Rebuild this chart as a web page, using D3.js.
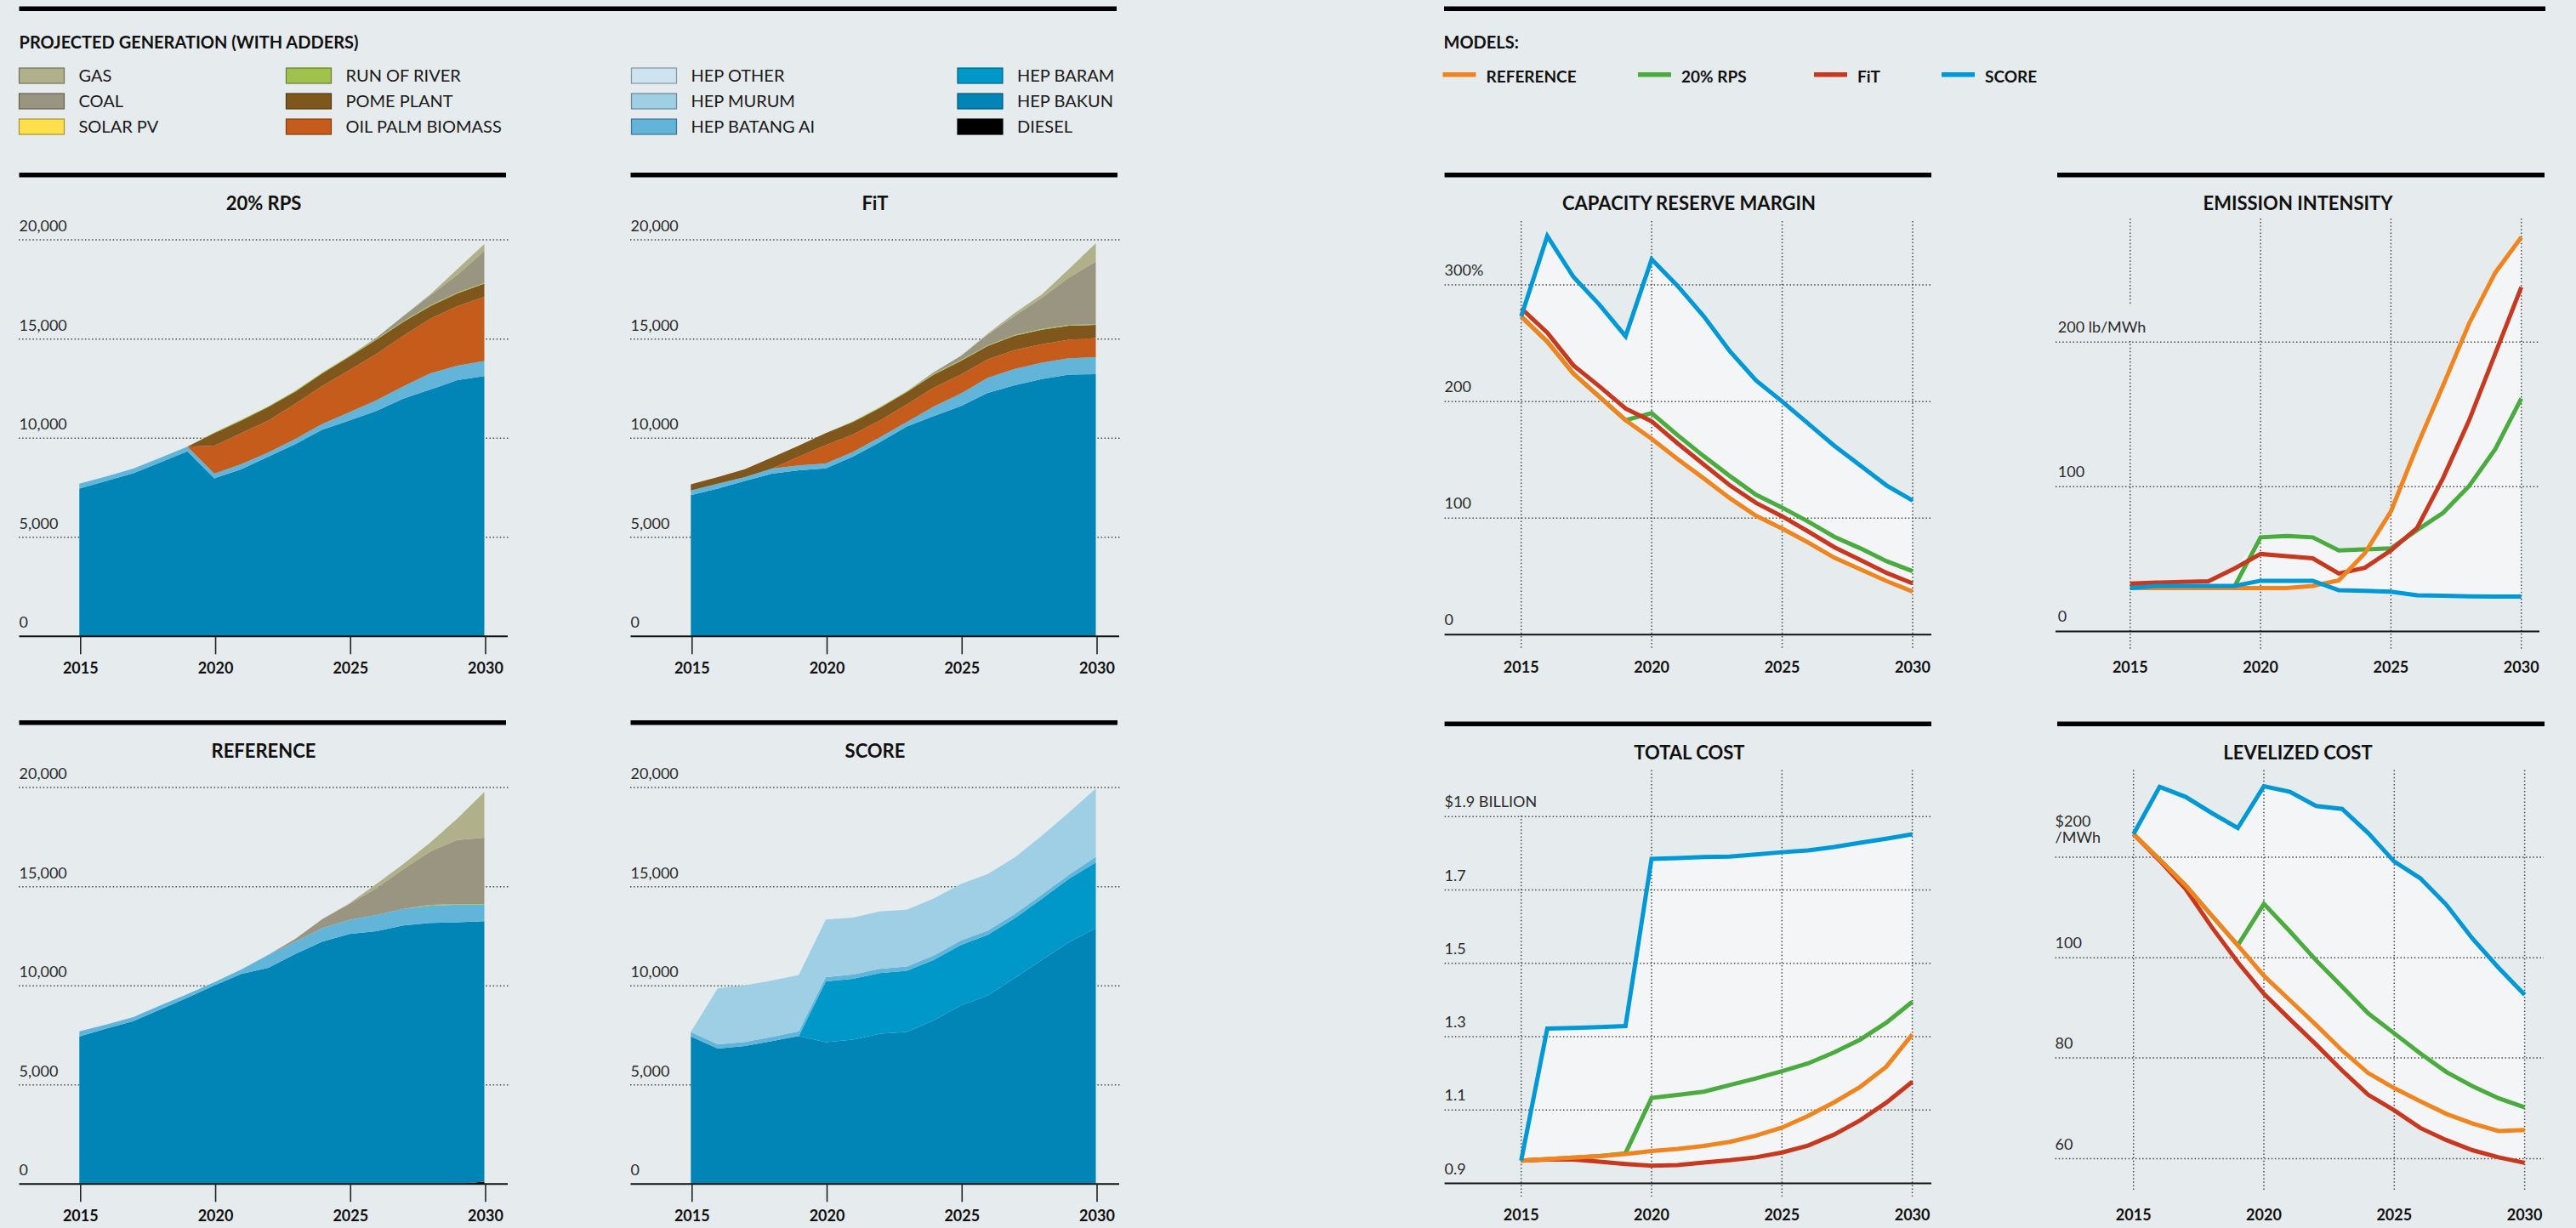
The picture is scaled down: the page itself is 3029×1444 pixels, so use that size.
<!DOCTYPE html>
<html>
<head>
<meta charset="utf-8">
<script src="https://cdn.jsdelivr.net/npm/d3@7"></script>
<style>
  html, body { margin: 0; padding: 0; background: #e6ebed; }
  svg { display: block; }
  text { font-family: Lato, "Open Sans", "Noto Sans", sans-serif; }
</style>
</head>
<body>
<svg id="chart" width="3029" height="1444"></svg>
<script>
// ---------- categories ----------
const years = [2015, 2016, 2017, 2018, 2019, 2020, 2021, 2022, 2023, 2024, 2025, 2026, 2027, 2028, 2029, 2030];
const yearTicks = [2015, 2020, 2025, 2030];

// generation sources, bottom of the stack first
const sourceNames = ["DIESEL", "HEP BAKUN", "HEP BARAM", "HEP BATANG AI", "HEP MURUM", "HEP OTHER",
  "OIL PALM BIOMASS", "POME PLANT", "RUN OF RIVER", "SOLAR PV", "COAL", "GAS"];
const sourceColors = ["#000000", "#0085b6", "#0098c8", "#62b4d9", "#9ecfe5", "#cde4f0",
  "#c65c1b", "#7f561c", "#a0c14e", "#ffe04c", "#999580", "#b0b08a"];
const legendColumns = [
  ["GAS", "COAL", "SOLAR PV"],
  ["RUN OF RIVER", "POME PLANT", "OIL PALM BIOMASS"],
  ["HEP OTHER", "HEP MURUM", "HEP BATANG AI"],
  ["HEP BARAM", "HEP BAKUN", "DIESEL"]
];

const models = ["REFERENCE", "20% RPS", "FiT", "SCORE"];
const modelColors = ["#f0851f", "#4aab3f", "#c8381f", "#0098d6"];

// ---------- projected generation, by scenario ----------
// 20% RPS
const rpsBakun    = [7460, 7840, 8230, 8770, 9330, 7970, 8430, 9060, 9700, 10430, 10890, 11370, 11990, 12450, 12930, 13130];
const rpsBatangAi = [240, 230, 230, 240, 240, 240, 260, 220, 260, 290, 420, 540, 630, 820, 730, 760];
const rpsOilPalm  = [0, 0, 0, 0, 0, 1410, 1560, 1610, 1780, 1920, 2120, 2340, 2550, 2760, 3000, 3240];
const rpsPome     = [0, 0, 0, 0, 0, 630, 640, 680, 610, 630, 680, 710, 690, 630, 640, 660];
const rpsRiver    = [0, 0, 0, 0, 0, 40, 40, 40, 40, 40, 40, 40, 40, 40, 40, 40];
const rpsCoal     = [0, 0, 0, 0, 0, 0, 0, 0, 0, 0, 0, 60, 250, 500, 900, 1620];
const rpsGas      = [0, 0, 0, 0, 0, 0, 0, 0, 0, 0, 0, 0, 20, 60, 280, 340];

// FiT
const fitBakun    = [7120, 7460, 7840, 8210, 8380, 8480, 9060, 9790, 10590, 11110, 11620, 12280, 12670, 12980, 13200, 13230];
const fitBatangAi = [240, 240, 200, 250, 240, 240, 240, 250, 220, 490, 630, 760, 820, 830, 830, 850];
const fitOilPalm  = [0, 0, 0, 0, 440, 930, 880, 850, 890, 950, 960, 940, 960, 930, 930, 970];
const fitPome     = [310, 340, 390, 560, 560, 600, 630, 630, 630, 660, 680, 670, 720, 730, 710, 660];
const fitRiver    = [0, 0, 0, 0, 0, 0, 40, 40, 40, 40, 40, 40, 40, 40, 40, 40];
const fitCoal     = [0, 0, 0, 0, 0, 0, 0, 0, 0, 70, 220, 530, 970, 1570, 2390, 3150];
const fitGas      = [0, 0, 0, 0, 0, 0, 0, 0, 0, 0, 0, 50, 140, 170, 420, 930];

// REFERENCE
const refDiesel   = [0, 0, 0, 0, 0, 0, 0, 0, 0, 0, 0, 0, 0, 0, 0, 120];
const refBakun    = [7450, 7840, 8220, 8810, 9400, 10020, 10600, 10910, 11610, 12230, 12620, 12750, 13040, 13170, 13210, 13140];
const refBatangAi = [250, 210, 200, 200, 180, 160, 220, 650, 620, 690, 700, 820, 840, 870, 880, 830];
const refRiver    = [0, 0, 0, 0, 0, 0, 0, 0, 0, 0, 0, 0, 0, 40, 40, 40];
const refCoal     = [0, 0, 0, 0, 0, 0, 0, 0, 140, 450, 810, 1350, 2010, 2700, 3220, 3340];
const refGas      = [0, 0, 0, 0, 0, 0, 0, 0, 0, 0, 30, 210, 250, 450, 1090, 2310];

// SCORE
const scoreBakun    = [7450, 6830, 6960, 7210, 7470, 7160, 7280, 7580, 7670, 8260, 9010, 9510, 10400, 11310, 12200, 12900];
const scoreBaram    = [0, 0, 0, 0, 0, 3060, 3070, 3060, 3090, 3050, 3050, 3060, 3010, 3070, 3190, 3320];
const scoreBatangAi = [220, 220, 210, 210, 230, 220, 220, 220, 210, 220, 220, 220, 210, 220, 210, 290];
const scoreMurum    = [0, 2830, 2850, 2850, 2850, 2900, 2870, 2890, 2870, 2880, 2850, 2850, 2860, 2970, 3140, 3440];

const genTicks = [0, 5000, 10000, 15000, 20000];

// ---------- model outcomes (REFERENCE, 20% RPS, FiT, SCORE) ----------
const reserveRef   = [273, 251.5, 224, 204, 184, 168, 150.5, 134, 117, 102, 91, 79, 66, 56, 46, 37];
const reserveRps   = [273, 251.5, 224, 204, 184, 190, 171, 153, 136, 120, 109, 97, 84, 74, 63, 54.5];
const reserveFit   = [280, 259, 231, 213, 194, 183, 164, 146, 128, 113, 101.5, 88.5, 75, 64, 53, 44];
const reserveScore = [273, 342, 307, 283, 256, 322, 299, 273, 243, 218, 200, 181, 162, 145, 128, 115];

const emissionRef   = [30, 30, 30, 30, 30, 30, 30, 31.4, 35.3, 54, 83, 128, 170, 213, 248, 272.5];
const emissionRps   = [31, 31, 31, 31, 31, 65, 66, 65, 56, 56.7, 57.4, 70, 82, 100.5, 126, 161];
const emissionFit   = [33, 33.7, 34.2, 34.7, 43.5, 53.5, 52, 50.5, 40, 44, 56, 71.4, 106, 146, 192, 238];
const emissionScore = [30, 31.4, 31.4, 31.4, 31.4, 35, 35, 35, 28.4, 28, 27.4, 25, 24.7, 24.2, 24, 24];

const costRef   = [0.962, 0.966, 0.970, 0.974, 0.980, 0.988, 0.994, 1.002, 1.013, 1.030, 1.052, 1.084, 1.121, 1.163, 1.218, 1.306];
const costRps   = [0.962, 0.966, 0.970, 0.974, 0.982, 1.133, 1.141, 1.150, 1.168, 1.186, 1.206, 1.227, 1.257, 1.292, 1.338, 1.395];
const costFit   = [0.962, 0.965, 0.965, 0.959, 0.953, 0.948, 0.950, 0.957, 0.963, 0.971, 0.984, 1.003, 1.033, 1.072, 1.120, 1.177];
const costScore = [0.962, 1.322, 1.324, 1.326, 1.329, 1.785, 1.787, 1.790, 1.791, 1.797, 1.803, 1.808, 1.817, 1.829, 1.840, 1.852];

const lcoeRef   = [223, 197.7, 171.9, 142, 112.3, 96.4, 91.5, 86.6, 81.5, 77.0, 74.0, 71.4, 68.9, 67.0, 65.5, 65.7];
const lcoeRps   = [223, 197.7, 171.9, 142, 112.3, 153.6, 126.2, 99.5, 94.2, 88.9, 84.9, 80.9, 77.2, 74.4, 72.0, 70.2];
const lcoeFit   = [223, 196.7, 168.5, 130.5, 99.1, 92.8, 87.7, 82.7, 77.5, 72.7, 69.6, 66.1, 63.7, 61.7, 60.3, 59.2];
const lcoeScore = [223, 270, 260, 244, 229, 270.5, 265, 251, 248, 224, 195.7, 179, 152.6, 119, 98.0, 92.6];

const reserveTicks  = [0, 100, 200, 300];
const reserveLabels = ["0", "100", "200", "300%"];
const emissionTicks  = [0, 100, 200];
const emissionLabels = ["0", "100", "200 lb/MWh"];
const costTicks  = [0.9, 1.1, 1.3, 1.5, 1.7, 1.9];
const costLabels = ["0.9", "1.1", "1.3", "1.5", "1.7", "$1.9 BILLION"];
const lcoeTicks  = [60, 80, 100, 200];
const lcoeLabels = [["60"], ["80"], ["100"], ["$200", "/MWh"]];

// ---------- drawing ----------
const BG = "#e6ebed";
const BAND = "#f3f5f6";
const GRID = "#4a4a4a";
const svg = d3.select("#chart");
svg.append("rect").attr("width", 3029).attr("height", 1444).attr("fill", BG);

const colorOf = d3.scaleOrdinal().domain(sourceNames).range(sourceColors);
const modelColor = d3.scaleOrdinal().domain(models).range(modelColors);

function rule(g, x0, x1, y) {
  g.append("rect").attr("x", x0).attr("y", y).attr("width", x1 - x0).attr("height", 5.5).attr("fill", "#000");
}
function dotted(sel) {
  return sel.attr("stroke", GRID).attr("stroke-width", 1.5).attr("stroke-dasharray", "1.5,2.6");
}

// ----- legends -----
const legend = svg.append("g");
rule(legend, 22.5, 1313, 7.5);
rule(legend, 1698, 2993, 7.5);
legend.append("text").attr("x", 22.5).attr("y", 57).attr("font-size", 20).attr("font-weight", 700)
  .attr("fill", "#111").text("PROJECTED GENERATION (WITH ADDERS)");
const legendColX = [22.5, 336.5, 742.5, 1126];
legendColumns.forEach((col, ci) => {
  col.forEach((name, ri) => {
    const gy = 80 + ri * 30;
    legend.append("rect").attr("x", legendColX[ci]).attr("y", gy).attr("width", 53).attr("height", 18)
      .attr("fill", colorOf(name)).attr("stroke", d3.color(colorOf(name)).darker(1.2)).attr("stroke-width", 1.2);
    legend.append("text").attr("x", legendColX[ci] + 70).attr("y", gy + 16).attr("font-size", 20)
      .attr("fill", "#1a1a1a").text(name);
  });
});
legend.append("text").attr("x", 1697.5).attr("y", 57).attr("font-size", 20).attr("font-weight", 700)
  .attr("fill", "#111").text("MODELS:");
const modelLegendX = [1696.5, 1926, 2133, 2283];
models.forEach((m, i) => {
  legend.append("rect").attr("x", modelLegendX[i]).attr("y", 85).attr("width", 39).attr("height", 5.5)
    .attr("fill", modelColor(m));
  legend.append("text").attr("x", modelLegendX[i] + 51).attr("y", 96.5).attr("font-size", 19)
    .attr("font-weight", 700).attr("fill", "#111").text(m);
});

// ----- stacked generation panels -----
function stackPanel(title, table, ox, oy) {
  const g = svg.append("g");
  const x = d3.scaleLinear().domain([years[0], years[years.length - 1]]).range([93.3 + ox, 569.5 + ox]);
  const y = d3.scaleLinear().domain([0, 20000]).range([748.3 + oy, 282.1 + oy]);

  rule(g, 22.5 + ox, 595 + ox, 203 + oy);
  g.append("text").attr("x", 310 + ox).attr("y", 247 + oy).attr("text-anchor", "middle")
    .attr("font-size", 22).attr("font-weight", 700).attr("fill", "#111").text(title);

  genTicks.filter(t => t > 0).forEach(t => {
    dotted(g.append("line").attr("x1", 22 + ox).attr("x2", 600 + ox).attr("y1", y(t)).attr("y2", y(t)));
  });
  genTicks.forEach(t => {
    g.append("text").attr("x", 22.5 + ox).attr("y", y(t) - 10).attr("font-size", 18)
      .attr("fill", "#2b2b2b").text(d3.format(",")(t));
  });

  const rows = years.map((yr, i) => {
    const r = { year: yr };
    sourceNames.forEach(s => { r[s] = table[s] ? table[s][i] : 0; });
    return r;
  });
  const layers = d3.stack().keys(sourceNames)(rows);
  const area = d3.area().x(d => x(d.data.year)).y0(d => y(d[0])).y1(d => y(d[1]));
  g.selectAll("path.layer").data(layers.filter(l => table[l.key])).join("path")
    .attr("class", "layer").attr("d", area).attr("fill", d => colorOf(d.key));

  g.append("line").attr("x1", 22.5 + ox).attr("x2", 597 + ox).attr("y1", y(0)).attr("y2", y(0))
    .attr("stroke", "#111").attr("stroke-width", 2);
  yearTicks.forEach(t => {
    g.append("line").attr("x1", x(t) + 1.5).attr("x2", x(t) + 1.5).attr("y1", y(0)).attr("y2", y(0) + 21)
      .attr("stroke", "#222").attr("stroke-width", 1.6);
    g.append("text").attr("x", x(t) + 1.5).attr("y", y(0) + 43.5).attr("text-anchor", "middle")
      .attr("font-size", 18).attr("font-weight", 700).attr("fill", "#111").text(t);
  });
}

stackPanel("20% RPS", {
  "HEP BAKUN": rpsBakun, "HEP BATANG AI": rpsBatangAi, "OIL PALM BIOMASS": rpsOilPalm,
  "POME PLANT": rpsPome, "RUN OF RIVER": rpsRiver, "COAL": rpsCoal, "GAS": rpsGas
}, 0, 0);
stackPanel("FiT", {
  "HEP BAKUN": fitBakun, "HEP BATANG AI": fitBatangAi, "OIL PALM BIOMASS": fitOilPalm,
  "POME PLANT": fitPome, "RUN OF RIVER": fitRiver, "COAL": fitCoal, "GAS": fitGas
}, 719, 0);
stackPanel("REFERENCE", {
  "DIESEL": refDiesel, "HEP BAKUN": refBakun, "HEP BATANG AI": refBatangAi,
  "RUN OF RIVER": refRiver, "COAL": refCoal, "GAS": refGas
}, 0, 644);
stackPanel("SCORE", {
  "HEP BAKUN": scoreBakun, "HEP BARAM": scoreBaram, "HEP BATANG AI": scoreBatangAi, "HEP MURUM": scoreMurum
}, 719, 644);

// ----- model comparison line panels -----
function linePanel(cfg) {
  const g = svg.append("g");
  const x = d3.scaleLinear().domain([years[0], years[years.length - 1]]).range(cfg.xRange);
  const y = d3.scaleLinear().domain(cfg.domain).range(cfg.range);
  const series = models.map((m, i) => ({ name: m, values: cfg.values[i] }));

  rule(g, cfg.ruleX[0], cfg.ruleX[1], cfg.ruleY);
  g.append("text").attr("x", cfg.titleX).attr("y", cfg.ruleY + 44).attr("text-anchor", "middle")
    .attr("font-size", 22).attr("font-weight", 700).attr("fill", "#111").text(cfg.title);

  // envelope spanned by the four models
  const band = d3.area().x((d, i) => x(years[i]))
    .y0((d, i) => y(d3.min(series, s => s.values[i])))
    .y1((d, i) => y(d3.max(series, s => s.values[i])));
  g.append("path").attr("d", band(years)).attr("fill", BAND);

  yearTicks.forEach(t => {
    dotted(g.append("line").attr("x1", x(t)).attr("x2", x(t)).attr("y1", cfg.vGrid[0]).attr("y2", cfg.vGrid[1]));
  });

  cfg.ticks.forEach((t, i) => {
    const lines = [].concat(cfg.labels[i]);
    const ty = y(t);
    const lab = g.append("g");
    lines.forEach((l, k) => {
      lab.append("text").attr("x", cfg.labelX).attr("y", ty - 11 - (lines.length - 1 - k) * 19.5 - (lines.length > 1 ? 6 : 0))
        .attr("font-size", 18).attr("fill", "#2b2b2b").text(l);
    });
    if (cfg.maskPad && i === cfg.ticks.length - 1) {
      const bb = lab.node().getBBox();
      lab.insert("rect", "text").attr("x", bb.x - 3).attr("y", bb.y - cfg.maskPad)
        .attr("width", bb.width + 8).attr("height", ty - 1.5 - (bb.y - cfg.maskPad)).attr("fill", BG);
    }
    if (!(cfg.axis && i === 0)) {
      dotted(g.append("line").attr("x1", cfg.gridX[0]).attr("x2", cfg.gridX[1]).attr("y1", ty).attr("y2", ty));
    }
  });

  if (cfg.axis) {
    g.append("line").attr("x1", cfg.gridX[0]).attr("x2", cfg.gridX[1]).attr("y1", y(cfg.ticks[0])).attr("y2", y(cfg.ticks[0]))
      .attr("stroke", "#111").attr("stroke-width", 2);
  }

  const line = d3.line().x((d, i) => x(years[i])).y(d => y(d));
  // drawing order: 20% RPS, FiT, REFERENCE, SCORE
  [1, 2, 0, 3].forEach(i => {
    g.append("path").attr("d", line(series[i].values)).attr("fill", "none")
      .attr("stroke", modelColor(series[i].name)).attr("stroke-width", 5)
      .attr("stroke-linejoin", "miter").attr("stroke-miterlimit", 3);
  });

  yearTicks.forEach(t => {
    g.append("text").attr("x", x(t)).attr("y", cfg.yearY).attr("text-anchor", "middle")
      .attr("font-size", 18).attr("font-weight", 700).attr("fill", "#111").text(t);
  });
}

linePanel({
  title: "CAPACITY RESERVE MARGIN", ruleX: [1698.6, 2271], ruleY: 203, titleX: 1986,
  xRange: [1788.7, 2249], domain: [0, 300], range: [746.3, 335.1],
  ticks: reserveTicks, labels: reserveLabels, labelX: 1698.6, gridX: [1698.6, 2271],
  vGrid: [260, 764], axis: true, yearY: 791,
  values: [reserveRef, reserveRps, reserveFit, reserveScore]
});
linePanel({
  title: "EMISSION INTENSITY", ruleX: [2419, 2992], ruleY: 203, titleX: 2702,
  xRange: [2504.8, 2964.7], domain: [0, 200], range: [742.4, 402.3],
  ticks: emissionTicks, labels: emissionLabels, labelX: 2419.8, gridX: [2417, 2986],
  vGrid: [257, 763], axis: true, yearY: 791, maskPad: 14,
  values: [emissionRef, emissionRps, emissionFit, emissionScore]
});
linePanel({
  title: "TOTAL COST", ruleX: [1698.6, 2271], ruleY: 848.5, titleX: 1986.4,
  xRange: [1788.7, 2248.6], domain: [0.9, 1.9], range: [1391.5, 960.3],
  ticks: costTicks, labels: costLabels, labelX: 1698.6, gridX: [1698.6, 2271],
  vGrid: [905.5, 1407], axis: true, yearY: 1435, maskPad: 40,
  values: [costRef, costRps, costFit, costScore]
});
linePanel({
  title: "LEVELIZED COST", ruleX: [2419, 2992], ruleY: 848.5, titleX: 2702,
  xRange: [2508.7, 2968.6], domain: [60, 80, 100, 200], range: [1362.6, 1244, 1126.2, 1008],
  ticks: lcoeTicks, labels: lcoeLabels, labelX: 2416.6, gridX: [2416.6, 2991],
  vGrid: [905.5, 1401], axis: false, yearY: 1435,
  values: [lcoeRef, lcoeRps, lcoeFit, lcoeScore]
});
</script>
</body>
</html>
